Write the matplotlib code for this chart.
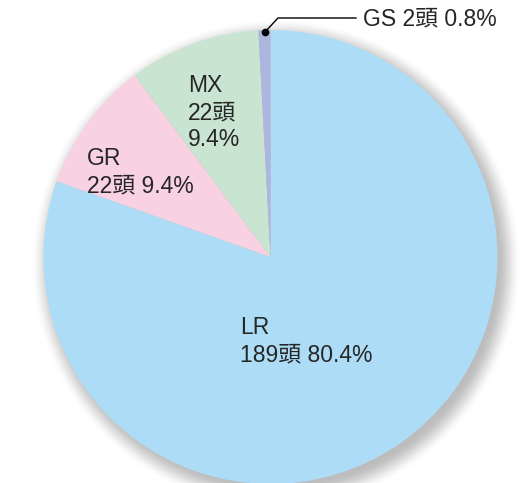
import numpy as np
import matplotlib
matplotlib.use("Agg")
import matplotlib.pyplot as plt

categories = ["LR", "GR", "MX", "GS"]
counts = [189, 22, 22, 2]
percents = ["80.4%", "9.4%", "9.4%", "0.8%"]
colors = ["#ADDDF6", "#F8D1E3", "#C9E4D0", "#ADB6DE"]

W, H = 529, 483
fig = plt.figure(figsize=(W / 100, H / 100), dpi=100)
ax = fig.add_axes([0, 0, 1, 1])
ax.set_xlim(0, W)
ax.set_ylim(0, H)
ax.set_aspect("equal")
ax.axis("off")

cx, cy, R = 270.5, H - 257, 227

# soft drop shadow
yy, xx = np.mgrid[0:H, 0:W]
d = np.hypot(xx - (cx + 5), (H - yy) - (cy - 6))
t = np.clip((d - (R - 6)) / 24.0, 0, 1)
alpha = 0.40 * (1 - (3 * t**2 - 2 * t**3))
img = np.zeros((H, W, 4))
img[..., :3] = 0.35
img[..., 3] = alpha
ax.imshow(img, extent=(0, W, 0, H), origin="upper", zorder=0, interpolation="bilinear")

ax.pie(counts, colors=colors, startangle=90, counterclock=False,
       center=(cx, cy), radius=R, frame=True,
       wedgeprops=dict(linewidth=0))
ax.set_xlim(0, W)
ax.set_ylim(0, H)
ax.axis("off")

fam = ["Liberation Sans", "Noto Sans CJK JP"]
fs = 16.5
ls = 1.22
tc = "#262626"
ax.text(240, H - 361, f"{categories[0]}\n{counts[0]}頭 {percents[0]}", family=fam, fontsize=fs,
        ha="left", va="baseline", color=tc, linespacing=ls)
ax.text(87, H - 192, f"{categories[1]}\n{counts[1]}頭 {percents[1]}", family=fam, fontsize=fs,
        ha="left", va="baseline", color=tc, linespacing=ls)
ax.text(188, H - 146, f"{categories[2]}\n{counts[2]}頭\n{percents[2]}", family=fam, fontsize=fs,
        ha="left", va="baseline", color=tc, linespacing=ls)
ax.text(363, H - 25, f"{categories[3]} {counts[3]}頭 {percents[3]}", family=fam, fontsize=fs,
        ha="left", va="baseline", color=tc)

# leader line for GS
ax.plot([265, 278, 356], [H - 32, H - 18, H - 18], color="black", lw=1)
ax.plot([265], [H - 32], "o", color="black", ms=4.5)

fig.savefig("out.png", dpi=100)
